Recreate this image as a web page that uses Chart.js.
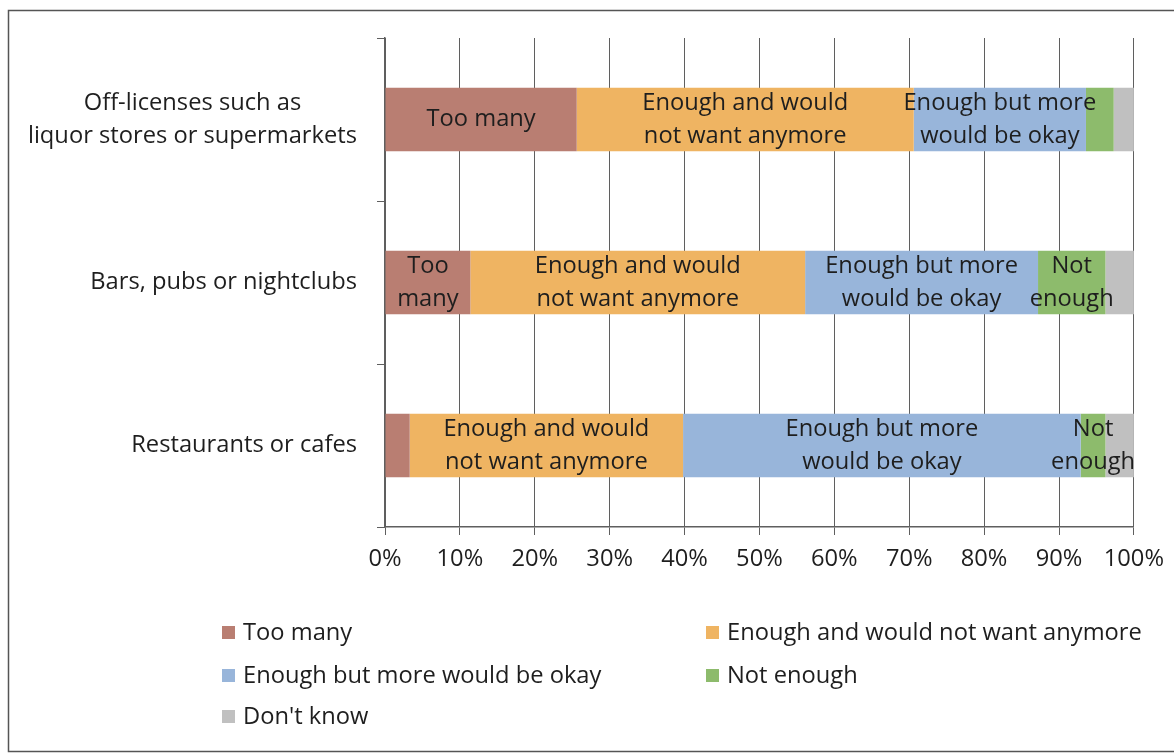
<!DOCTYPE html>
<html>
<head>
<meta charset="utf-8">
<script src="https://cdn.jsdelivr.net/npm/chart.js@4"></script>
<style>
    html, body { margin: 0; padding: 0; background: #fff; }
    #wrap { width: 1174px; height: 756px; }
</style>
</head>
<body>
<div id="wrap"><canvas id="outletChart" width="1174" height="756"></canvas></div>
<script>
// ===== Categories (top to bottom) =====
const outletTypes = [
    ['Off-licenses such as', 'liquor stores or supermarkets'],
    ['Bars, pubs or nightclubs'],
    ['Restaurants or cafes']
];

// ===== Share of answers (%) per outlet type =====
const tooMany      = [25.6, 11.4, 3.3];
const enoughNoMore = [45.0, 44.7, 36.5];
const enoughMoreOk = [23.0, 31.1, 53.1];
const notEnough    = [3.7, 9.0, 3.3];
const dontKnow     = [2.7, 3.8, 3.8];

// ===== Text written inside the bars =====
const tooManyText      = [['Too many'], ['Too', 'many'], null];
const enoughNoMoreText = [['Enough and would', 'not want anymore'], ['Enough and would', 'not want anymore'], ['Enough and would', 'not want anymore']];
const enoughMoreOkText = [['Enough but more', 'would be okay'], ['Enough but more', 'would be okay'], ['Enough but more', 'would be okay']];
const notEnoughText    = [null, ['Not', 'enough'], ['Not', 'enough']];
const dontKnowText     = [null, null, null];

// ===== Axis ticks =====
const xTicks = [0, 10, 20, 30, 40, 50, 60, 70, 80, 90, 100];

const FONT = '"Open Sans", Lato, sans-serif';
const FONT_SIZE = 23.7;
const TEXT = '#1e1e1e';

const series = [
    { label: 'Too many', data: tooMany, text: tooManyText, color: '#B97E72' },
    { label: 'Enough and would not want anymore', data: enoughNoMore, text: enoughNoMoreText, color: '#EFB462' },
    { label: 'Enough but more would be okay', data: enoughMoreOk, text: enoughMoreOkText, color: '#98B5DA' },
    { label: 'Not enough', data: notEnough, text: notEnoughText, color: '#8DBB6C' },
    { label: "Don't know", data: dontKnow, text: dontKnowText, color: '#C0C0C0' }
];

// ===== Frame around the whole chart =====
const framePlugin = {
    id: 'frame',
    beforeDraw(chart) {
        const ctx = chart.ctx;
        ctx.save();
        ctx.fillStyle = '#fff';
        ctx.fillRect(0, 0, chart.width, chart.height);
        ctx.strokeStyle = '#555';
        ctx.lineWidth = 1.5;
        ctx.strokeRect(8.5, 10.5, chart.width + 20, 741);
        ctx.restore();
    }
};

// ===== Category names: lines centred, block right-aligned =====
const categoryLabels = {
    id: 'categoryLabels',
    afterDraw(chart) {
        const ctx = chart.ctx;
        const yScale = chart.scales.y;
        const right = chart.chartArea.left - 28;
        const lineH = 33;
        ctx.save();
        ctx.font = `${FONT_SIZE}px ${FONT}`;
        ctx.fillStyle = TEXT;
        ctx.textAlign = 'center';
        ctx.textBaseline = 'middle';
        outletTypes.forEach((lines, i) => {
            const w = Math.max(...lines.map(l => ctx.measureText(l).width));
            const cx = right - w / 2;
            const cy = yScale.getPixelForValue(i);
            lines.forEach((l, k) => {
                ctx.fillText(l, cx, cy + (k - (lines.length - 1) / 2) * lineH);
            });
        });
        ctx.restore();
    }
};

// ===== Labels inside the bar segments =====
const segmentLabels = {
    id: 'segmentLabels',
    afterDatasetsDraw(chart) {
        const ctx = chart.ctx;
        const lineH = 33;
        ctx.save();
        ctx.font = `${FONT_SIZE}px ${FONT}`;
        ctx.fillStyle = TEXT;
        ctx.textAlign = 'center';
        ctx.textBaseline = 'middle';
        series.forEach((s, di) => {
            const meta = chart.getDatasetMeta(di);
            meta.data.forEach((bar, i) => {
                const lines = s.text[i];
                if (!lines) return;
                const cx = (bar.x + bar.base) / 2;
                lines.forEach((l, k) => {
                    ctx.fillText(l, cx, bar.y + (k - (lines.length - 1) / 2) * lineH);
                });
            });
        });
        ctx.restore();
    }
};

// ===== Legend in two columns under the plot =====
const legendPlugin = {
    id: 'twoColLegend',
    afterDraw(chart) {
        const ctx = chart.ctx;
        const cols = [222, 706];
        const rows = [632, 675, 716];
        ctx.save();
        ctx.font = `${FONT_SIZE}px ${FONT}`;
        ctx.textBaseline = 'middle';
        ctx.textAlign = 'left';
        series.forEach((s, i) => {
            const x = cols[i % 2];
            const y = rows[Math.floor(i / 2)];
            ctx.fillStyle = s.color;
            ctx.fillRect(x, y - 6, 13, 13);
            ctx.fillStyle = TEXT;
            ctx.fillText(s.label, x + 21, y + 1);
        });
        ctx.restore();
    }
};

new Chart(document.getElementById('outletChart'), {
    type: 'bar',
    data: {
        labels: outletTypes.map(l => l.join(' ')),
        datasets: series.map(s => ({
            label: s.label,
            data: s.data,
            backgroundColor: s.color,
            borderWidth: 0,
            barPercentage: 0.39,
            categoryPercentage: 1
        }))
    },
    options: {
        indexAxis: 'y',
        responsive: false,
        animation: false,
        layout: { padding: { left: 8, top: 38, right: 36, bottom: 169 } },
        plugins: {
            legend: { display: false },
            tooltip: { enabled: false }
        },
        scales: {
            x: {
                stacked: true,
                min: 0,
                max: 100,
                afterBuildTicks(scale) {
                    scale.ticks = xTicks.map(v => ({ value: v }));
                },
                afterFit(scale) { scale.height = 60; },
                ticks: {
                    callback: v => v + '%',
                    color: TEXT,
                    font: { family: FONT, size: FONT_SIZE },
                    padding: 10,
                    maxRotation: 0
                },
                grid: {
                    color: '#5f5f5f',
                    lineWidth: 1,
                    tickLength: 8,
                    drawOnChartArea: true
                },
                border: { color: '#5f5f5f', width: 1.5 }
            },
            y: {
                stacked: true,
                afterFit(scale) { scale.width = 377; },
                ticks: { display: false },
                grid: {
                    color: '#5f5f5f',
                    drawOnChartArea: false,
                    tickLength: 8,
                    offset: true
                },
                border: { color: '#5f5f5f', width: 1.5 }
            }
        }
    },
    plugins: [framePlugin, categoryLabels, segmentLabels, legendPlugin]
});
</script>
</body>
</html>
